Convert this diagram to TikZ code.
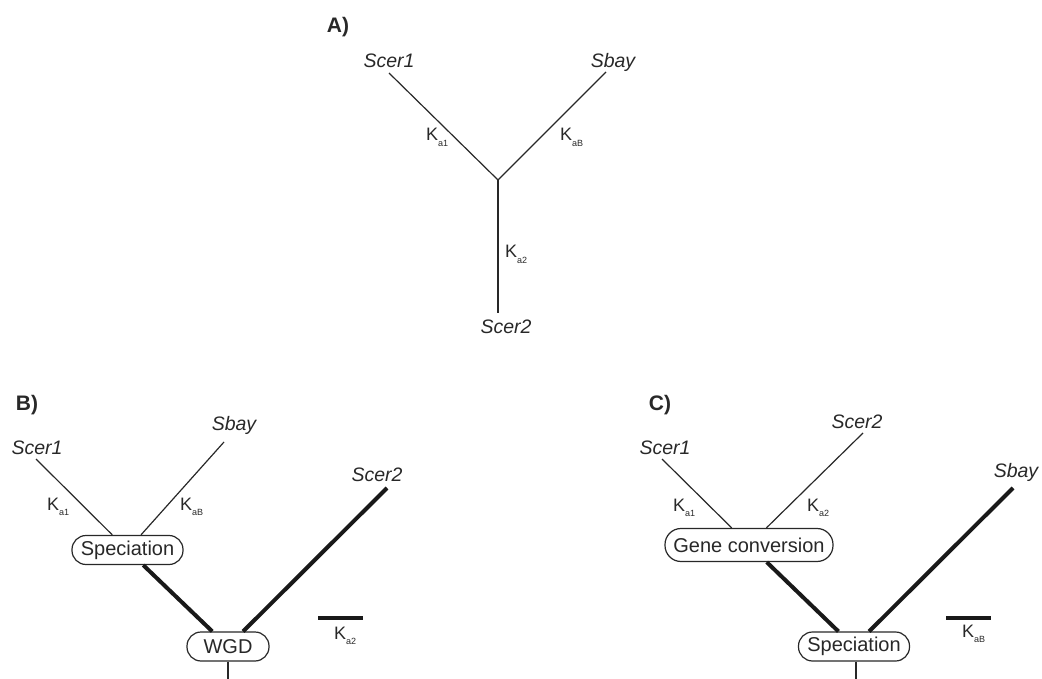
\documentclass[tikz,border=0pt]{standalone}
\usepackage{fontspec}
\setmainfont{Liberation Sans}
\definecolor{ink}{RGB}{40,40,40}
\newcommand\kal[1]{K\raisebox{-5.5pt}{\fontsize{9}{9}\selectfont #1}}
\begin{document}
\begin{tikzpicture}[x=1pt,y=-1pt,
  thinline/.style={line width=1.2pt, draw=ink},
  heavy/.style={line width=4pt, draw=black!90},
  sp/.style={font=\fontsize{19.5}{20}\selectfont\itshape, text=ink, inner sep=0pt, anchor=base},
  ka/.style={font=\fontsize{18}{18}\selectfont, text=ink, inner sep=0pt, anchor=base west},
  evt/.style={draw=ink, fill=white, rounded corners=14pt, line width=1.2pt, minimum height=29pt, inner sep=0pt, font=\fontsize{20}{20}\selectfont, text=ink},
  panel/.style={font=\bfseries\fontsize{21}{21}\selectfont, text=ink, inner sep=0pt, anchor=base}]
\useasboundingbox (0,0) rectangle (1042,679);

% ---------- Panel A ----------
\node[panel] (lA) at (338,33) {A)};
\node[sp] (tA1) at (389,68) {Scer1};
\node[sp] (tAB) at (613,68) {Sbay};
\node[sp] (tA2) at (506,333) {Scer2};
\coordinate (a1) at (389,73);
\coordinate (aB) at (606,72);
\coordinate (ac) at (498,180);
\coordinate (a2) at (498,313);
\draw[thinline] (a1) -- (ac) -- (aB);
\draw[thinline] (ac) -- (a2);
\node[ka] (kA1) at (426,141) {\kal{a1}};
\node[ka] (kAB) at (560,141) {\kal{aB}};
\node[ka] (kA2) at (505,258) {\kal{a2}};

% ---------- Panel B ----------
\node[panel] (lB) at (27,410) {B)};
\node[sp] (tB1) at (37,454) {Scer1};
\node[sp] (tBB) at (234,430) {Sbay};
\node[sp] (tB2) at (377,481) {Scer2};
\node[evt, minimum width=111pt] (specB) at (127.5,550) {Speciation};
\node[evt, minimum width=82pt] (wgd) at (228,646.5) {WGD};
\coordinate (b1) at (36,459);
\coordinate (bB) at (224,442);
\coordinate (b2) at (387,488);
\coordinate (broot) at (228,679);
\draw[thinline] (b1) -- (specB);
\draw[thinline] (bB) -- (specB);
\draw[heavy] (specB) -- (wgd);
\draw[heavy] (b2) -- (wgd);
\draw[thinline] (wgd) -- (broot);
\node[ka] (kB1) at (47,510) {\kal{a1}};
\node[ka] (kBB) at (180,510) {\kal{aB}};
\coordinate (sbB1) at (318,618);
\coordinate (sbB2) at (363,618);
\draw[line width=4.5pt, draw=black!90] (sbB1) -- (sbB2);
\node[ka] (kB2) at (334,639) {\kal{a2}};

% ---------- Panel C ----------
\node[panel] (lC) at (660,410) {C)};
\node[sp] (tC1) at (665,454) {Scer1};
\node[sp] (tC2) at (857,428) {Scer2};
\node[sp] (tCB) at (1016,477) {Sbay};
\node[evt, minimum width=168pt, minimum height=33pt, rounded corners=16pt] (gc) at (749,545) {Gene conversion};
\node[evt, minimum width=111pt] (specC) at (854,646.5) {Speciation};
\coordinate (c1) at (662,459);
\coordinate (c2) at (863,433);
\coordinate (cB) at (1013,488);
\coordinate (croot) at (856,679);
\draw[thinline] (c1) -- (gc);
\draw[thinline] (c2) -- (gc);
\draw[heavy] (gc) -- (specC);
\draw[heavy] (cB) -- (specC);
\draw[thinline] (specC.south -| croot) -- (croot);
\node[ka] (kC1) at (673,511) {\kal{a1}};
\node[ka] (kC2) at (807,511) {\kal{a2}};
\coordinate (sbC1) at (946,618);
\coordinate (sbC2) at (991,618);
\draw[line width=4.5pt, draw=black!90] (sbC1) -- (sbC2);
\node[ka] (kCB) at (962,637) {\kal{aB}};
\end{tikzpicture}
\end{document}
